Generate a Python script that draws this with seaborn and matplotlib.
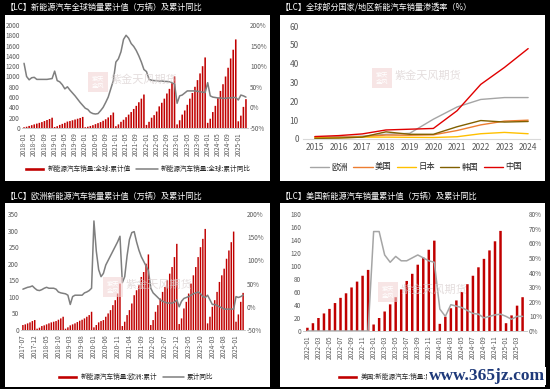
import matplotlib
matplotlib.use('Agg')
import matplotlib.pyplot as plt
from matplotlib.patches import Rectangle, Patch
from matplotlib.lines import Line2D
import numpy as np
import pandas as pd
import seaborn as sns

# ---- data ----
# global NEV cumulative sales (10k units), 2018-01 .. 2025-04
global_vals = [15, 25, 40, 55, 70, 85, 100, 115, 135, 155, 175, 200,
               20, 35, 60, 80, 100, 125, 135, 150, 165, 180, 195, 215,
               15, 25, 40, 55, 75, 95, 115, 140, 170, 205, 250, 300,
               35, 70, 120, 160, 210, 260, 310, 370, 430, 500, 570, 650,
               60, 120, 200, 250, 320, 420, 490, 570, 670, 760, 870, 1000,
               70, 150, 260, 340, 450, 570, 680, 800, 930, 1060, 1200, 1370,
               100, 180, 310, 430, 580, 720, 850, 1000, 1170, 1350, 1520, 1720,
               130, 240, 410, 560]
global_yoy = [107, 75, 67, 72, 73, 68, 68, 68, 68, 68, 69, 70,
              88, 65, 62, 55, 45, 50, 42, 35, 28, 20, 12, 5,
              -2, -5, -12, -15, -16, -15, -8, 0, 12, 25, 45, 65,
              110, 118, 135, 165, 175, 168, 155, 148, 138, 125, 110, 92,
              87, 68, 66, 65, 65, 64, 64, 63, 63, 62, 60, 57,
              10, 28, 30, 35, 40, 40, 40, 40, 39, 38, 37, 36,
              60, 28, 25, 24, 23, 23, 22, 22, 23, 23, 24, 24,
              18, 30, 28, 25]

# penetration rate (%)
years = ['2015', '2016', '2017', '2018', '2019', '2020', '2021', '2022', '2023', '2024']
pen_europe = [1.0, 1.2, 1.5, 2.5, 3.0, 10.5, 17.0, 21.0, 22.0, 22.0]
pen_usa = [0.7, 0.9, 1.2, 2.1, 2.0, 2.2, 4.5, 7.5, 9.5, 10.0]
pen_japan = [0.6, 0.6, 1.0, 1.0, 0.9, 0.8, 1.2, 2.8, 3.5, 2.8]
pen_korea = [0.3, 0.5, 1.0, 3.8, 2.5, 2.5, 6.5, 9.8, 9.0, 9.3]
pen_china = [1.3, 1.8, 2.7, 4.8, 5.2, 5.6, 15.0, 29.0, 38.0, 48.0]

# Europe cumulative sales, 2017-07 .. 2025-04
europe_vals = [15, 17, 20, 23, 27, 30,
               4, 7, 12, 14, 17, 20, 23, 25, 27, 31, 35, 40,
               4, 8, 14, 17, 20, 24, 28, 31, 35, 40, 45, 55,
               8, 15, 23, 27, 30, 40, 50, 60, 75, 90, 110, 140,
               12, 25, 45, 60, 80, 105, 120, 135, 160, 175, 200, 228,
               15, 30, 55, 75, 95, 115, 130, 150, 170, 190, 220, 260,
               18, 35, 65, 85, 110, 140, 165, 190, 220, 250, 275, 305,
               20, 40, 70, 90, 115, 145, 165, 185, 215, 240, 265, 297,
               25, 47, 85, 112]
europe_yoy = [38, 40, 42, 43, 45, 40,
              36, 35, 37, 40, 42, 40, 40, 40, 38, 32, 30, 29,
              28, 25, 5, 22, 25, 25, 25, 25, 30, 32, 35, 40,
              185, 120, 80, 65, 72, 90, 100, 110, 120, 130, 140, 152,
              52, 65, 110, 145, 160, 162, 140, 122, 108, 98, 88, 78,
              40, 30, 25, 20, 15, 12, 10, 8, 8, 8, 10, 15,
              0, 12, 18, 20, 22, 25, 28, 30, 32, 28, 22, 20,
              25, 15, 5, 5, 3, 0, -2, -5, -5, -5, -5, -5,
              22, 20, 22, 25]

# USA cumulative sales, 2022-01 .. 2025-04
usa_vals = [5, 12, 20, 27, 34, 43, 51, 58, 67, 76, 85, 94,
            10, 20, 30, 41, 52, 64, 77, 88, 102, 113, 125, 139,
            11, 22, 35, 47, 60, 72, 85, 98, 111, 124, 138, 154,
            12, 24, 39, 52]
usa_yoy = [0, 0, 0, 0, 0, 0, 0, 0, 0, 0, 0, 0,
           68, 68, 52, 47, 51, 48, 48, 50, 52, 50, 48, 47,
           15, 10, 18, 17, 16, 14, 12, 11.5, 9, 10, 11, 11.5,
           10, 8, 10, 10]

RED = '#C00000'
TXT = '#595959'


def months(start, n):
    return pd.date_range(start, periods=n, freq='MS').strftime('%Y-%m').tolist()


def bar_line(ax, labels, vals, yoy, line_color, ylim, ystep, y2lim, y2step, every, width):
    n = len(labels)
    df = pd.DataFrame({'月份': labels, '累计值': vals, '同比': yoy})
    sns.barplot(data=df, x='月份', y='累计值', color=RED, saturation=1,
                width=width, linewidth=0, ax=ax)
    for p in ax.patches:
        p.set_snap(False)
    ax2 = ax.twinx()
    sns.lineplot(x=np.arange(n), y=df['同比'].values, ax=ax2, color=line_color, lw=1.1)
    ax.set_xlim(-0.8, n - 0.2)
    ax.set_ylim(*ylim)
    ax.set_yticks(np.arange(ylim[0], ylim[1] + 1, ystep))
    ax2.set_ylim(*y2lim)
    t2 = np.arange(y2lim[0], y2lim[1] + 1, y2step)
    ax2.set_yticks(t2)
    ax2.set_yticklabels([f'{int(v)}%' for v in t2])
    ticks = list(range(0, n, every))
    ax.set_xticks(ticks)
    ax.set_xticklabels([labels[i] for i in ticks], rotation=90)
    ax.set_xlabel('')
    ax.set_ylabel('')
    for a in (ax, ax2):
        for s in a.spines.values():
            s.set_visible(False)
        a.tick_params(labelsize=4.6, colors=TXT, length=0, pad=1.5)
    ax.spines['bottom'].set_visible(True)
    ax.spines['bottom'].set_color('#BFBFBF')
    ax.spines['bottom'].set_linewidth(0.6)
    ax.tick_params(axis='x', length=2, width=0.5, color='#BFBFBF', pad=1)
    ax2.set_xlim(-0.8, n - 0.2)
    return ax2


def add_mark(fig, x, y):
    # faint company watermark: stamp + name
    fig.patches.append(Rectangle((x / 550, 1 - (y + 10) / 389), 20 / 550, 20 / 389,
                                 transform=fig.transFigure, facecolor='#F2D5D5',
                                 edgecolor='none', alpha=0.6, zorder=5))
    fig.text((x + 10) / 550, 1 - y / 389, '紫天\n金风', fontsize=4.5, color='white',
             ha='center', va='center', zorder=6, linespacing=0.9)
    fig.text((x + 23) / 550, 1 - (y - 2) / 389, '紫金天风期货', fontsize=8,
             color='#D9CFCF', alpha=0.7, ha='left', va='center', zorder=6)


sns.set_style('white')
plt.rcParams['font.family'] = ['Noto Sans CJK SC', 'DejaVu Sans']
plt.rcParams['axes.unicode_minus'] = False

fig = plt.figure(figsize=(5.5, 3.89), dpi=100)
fig.patch.set_facecolor('black')

# white panels (behind the axes)
for (x0, y0, x1, y1) in [(5, 15, 270, 181), (280, 15, 545, 181),
                         (5, 203, 270, 387), (280, 203, 545, 387)]:
    fig.patches.append(Rectangle((x0 / 550, 1 - y1 / 389), (x1 - x0) / 550, (y1 - y0) / 389,
                                 transform=fig.transFigure, facecolor='white',
                                 edgecolor='none', zorder=-1))

titles = [(6, 7, '【LC】新能源汽车全球销量累计值（万辆）及累计同比'),
          (281, 7, '【LC】全球部分国家/地区新能汽车销量渗透率（%）'),
          (6, 196, '【LC】欧洲新能源汽车销量累计值（万辆）及累计同比'),
          (281, 196, '【LC】美国新能源汽车销量累计值（万辆）及累计同比')]
for x, y, t in titles:
    fig.text(x / 550, 1 - y / 389, t, color='white', fontsize=5.9, ha='left', va='center')

# ---- panel 1: global ----
ax1 = fig.add_axes([22 / 550, 1 - 128 / 389, 226 / 550, 103 / 389])
bar_line(ax1, months('2018-01', len(global_vals)), global_vals, global_yoy,
         '#7F7F7F', (0, 2000), 200, (-50, 200), 50, 4, 0.62)
h1 = [Patch(facecolor=RED), Line2D([], [], color='#7F7F7F', lw=1.1)]
ax1.legend(h1, ['新能源汽车销量:全球:累计值', '新能源汽车销量:全球:累计同比'],
           loc='center', bbox_to_anchor=(137 / 550, 1 - 169 / 389),
           bbox_transform=fig.transFigure, ncol=2, frameon=False, fontsize=4.8,
           handlelength=3.2, handleheight=0.6, columnspacing=0.8, handletextpad=0.4)

# ---- panel 2: penetration ----
ax2 = fig.add_axes([303 / 550, 1 - 139 / 389, 237 / 550, 113 / 389])
pen = pd.DataFrame({'year': np.tile(np.arange(len(years)), 5),
                    'rate': pen_europe + pen_usa + pen_japan + pen_korea + pen_china,
                    'region': np.repeat(['欧洲', '美国', '日本', '韩国', '中国'], len(years))})
palette = {'欧洲': '#A5A5A5', '美国': '#ED7D31', '日本': '#FFC000',
           '韩国': '#806000', '中国': '#E00000'}
sns.lineplot(data=pen, x='year', y='rate', hue='region', palette=palette, lw=1.0, ax=ax2)
ax2.set_xlim(-0.5, len(years) - 0.5)
ax2.set_ylim(0, 60)
ax2.set_yticks(range(0, 61, 10))
ax2.set_xticks(range(len(years)))
ax2.set_xticklabels(years)
ax2.set_xticks(np.arange(-0.5, len(years), 1), minor=True)
ax2.set_xlabel('')
ax2.set_ylabel('')
for s in ax2.spines.values():
    s.set_visible(False)
ax2.spines['bottom'].set_visible(True)
ax2.spines['bottom'].set_color('#D9D9D9')
ax2.tick_params(labelsize=6, colors=TXT, length=0, pad=3)
ax2.tick_params(axis='x', which='minor', length=3, color='#D9D9D9')
ax2.legend(loc='center', bbox_to_anchor=(416 / 550, 1 - 167 / 389),
           bbox_transform=fig.transFigure, ncol=5, frameon=False, fontsize=6,
           handlelength=2.3, columnspacing=0.6, handletextpad=0.3, title=None)

# ---- panel 3: Europe ----
ax3 = fig.add_axes([21 / 550, 1 - 330 / 389, 224 / 550, 116 / 389])
bar_line(ax3, months('2017-07', len(europe_vals)), europe_vals, europe_yoy,
         '#7F7F7F', (0, 350), 50, (-50, 200), 50, 5, 0.62)
ax3.legend(h1, ['新能源汽车销量:欧洲:累计', '累计同比'],
           loc='center', bbox_to_anchor=(135 / 550, 1 - 377 / 389),
           bbox_transform=fig.transFigure, ncol=2, frameon=False, fontsize=4.8,
           handlelength=3.2, handleheight=0.6, columnspacing=0.8, handletextpad=0.4)

# ---- panel 4: USA ----
ax4 = fig.add_axes([303 / 550, 1 - 331 / 389, 224 / 550, 117 / 389])
bar_line(ax4, months('2022-01', len(usa_vals)), usa_vals, usa_yoy,
         '#A5A5A5', (0, 180), 20, (0, 80), 10, 2, 0.45)
ax4.legend([Patch(facecolor=RED), Line2D([], [], color='#A5A5A5', lw=1.1)],
           ['美国:新能源汽车:销量:累计值', '累计同比'],
           loc='center left', bbox_to_anchor=(331 / 550, 1 - 377 / 389),
           bbox_transform=fig.transFigure, ncol=2, frameon=False, fontsize=4.8,
           handlelength=3.2, handleheight=0.6, columnspacing=0.8, handletextpad=0.4)

for x, y in [(88, 82), (372, 78), (103, 287), (378, 292)]:
    add_mark(fig, x, y)

fig.text(545 / 550, 1 - 376 / 389, 'www.365jz.com', fontsize=12.5, fontweight='bold',
         family='Liberation Serif', color='#1F3A7A', ha='right', va='center', zorder=10,
         bbox=dict(facecolor='white', edgecolor='none', pad=1))

fig.savefig('out.png', dpi=100, facecolor='black')
